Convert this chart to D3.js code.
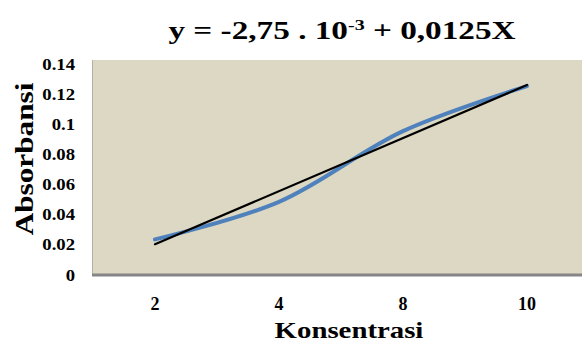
<!DOCTYPE html>
<html><head><meta charset="utf-8">
<script src="https://cdn.jsdelivr.net/npm/d3@7"></script>
<style>html,body{margin:0;padding:0;background:#fff;overflow:hidden}svg{display:block}text{font-family:"Liberation Serif","Times New Roman",serif;font-weight:bold;fill:#000}</style>
</head><body><svg id="c" width="582" height="343"></svg>
<script>
const categories = ["2", "4", "8", "10"];
const absorbance = [0.023, 0.048, 0.095, 0.125];
const yTicks = [0, 0.02, 0.04, 0.06, 0.08, 0.1, 0.12, 0.14];
const yTickLabels = ["0", "0.02", "0.04", "0.06", "0.08", "0.1", "0.12", "0.14"];

const svg = d3.select("#c");
const plot = {l: 92, r: 582, t: 60, b: 274};
const x = d3.scaleBand().domain(categories).range([93, 589]).padding(0);
const y = d3.scaleLinear().domain([0, 0.14]).range([274, 63.5]);
const cx = c => x(c) + x.bandwidth() / 2;

// plot area
svg.append("rect").attr("x", plot.l).attr("y", plot.t).attr("width", plot.r - plot.l).attr("height", plot.b - plot.t).attr("fill", "#ddd8c3");
svg.append("line").attr("x1", plot.l + 0.5).attr("x2", plot.l + 0.5).attr("y1", plot.t).attr("y2", plot.b).attr("stroke", "#b4b0a0").attr("stroke-width", 1);
svg.append("line").attr("x1", plot.l).attr("x2", plot.r).attr("y1", plot.b + 1).attr("y2", plot.b + 1).attr("stroke", "#868686").attr("stroke-width", 3);

// y axis
const yAxis = d3.axisLeft(y).tickValues(yTicks).tickSize(0).tickPadding(0).tickFormat((d, i) => yTickLabels[i]);
const gy = svg.append("g").attr("transform", "translate(75,0)").call(yAxis);
gy.select(".domain").remove();
gy.selectAll(".tick text").attr("x", null).attr("dy", null)
  .attr("transform", "translate(0,6) scale(1.1,1)")
  .attr("font-size", 17).attr("font-family", "Liberation Serif").attr("font-weight", "bold").attr("fill", "#000");

// x axis
const xAxis = d3.axisBottom(x).tickSize(0).tickPadding(0);
const gx = svg.append("g").attr("transform", "translate(0,310)").call(xAxis);
gx.select(".domain").remove();
gx.selectAll(".tick text").attr("y", 0).attr("dy", null)
  .attr("font-size", 18).attr("font-family", "Liberation Serif").attr("font-weight", "bold").attr("fill", "#000");

// data series (smoothed)
const pts = categories.map((c, i) => [cx(c), y(absorbance[i])]);
svg.append("path").attr("d", d3.line().curve(d3.curveCatmullRom.alpha(0.5))(pts))
  .attr("fill", "none").attr("stroke", "#4f81bd").attr("stroke-width", 4).attr("stroke-linecap", "round");

// linear trendline (least squares on category index)
const xs = absorbance.map((_, i) => i + 1);
const mx = d3.mean(xs), my = d3.mean(absorbance);
const slope = d3.sum(xs, (xi, i) => (xi - mx) * (absorbance[i] - my)) / d3.sum(xs, xi => (xi - mx) ** 2);
const icpt = my - slope * mx;
const trend = [[cx(categories[0]), y(icpt + slope * 1)], [cx(categories[3]), y(icpt + slope * 4)]];
svg.append("path").attr("d", d3.line()(trend)).attr("fill", "none").attr("stroke", "#000").attr("stroke-width", 2.2).attr("stroke-linecap", "round");

// title
const t = svg.append("text").attr("transform", "translate(342,39) scale(1.33,1)").attr("text-anchor", "middle").attr("font-size", 25);
t.append("tspan").text("y = -2,75 . 10");
t.append("tspan").attr("dy", -9).attr("font-size", 15).text("-3");
t.append("tspan").attr("dy", 9).text(" + 0,0125X");

// axis titles
svg.append("text").attr("transform", "translate(349,338) scale(1.2,1)").attr("text-anchor", "middle").attr("font-size", 24).text("Konsentrasi");
svg.append("text").attr("transform", "translate(33,159) rotate(-90) scale(1.25,1)").attr("text-anchor", "middle").attr("font-size", 25).text("Absorbansi");
</script></body></html>
